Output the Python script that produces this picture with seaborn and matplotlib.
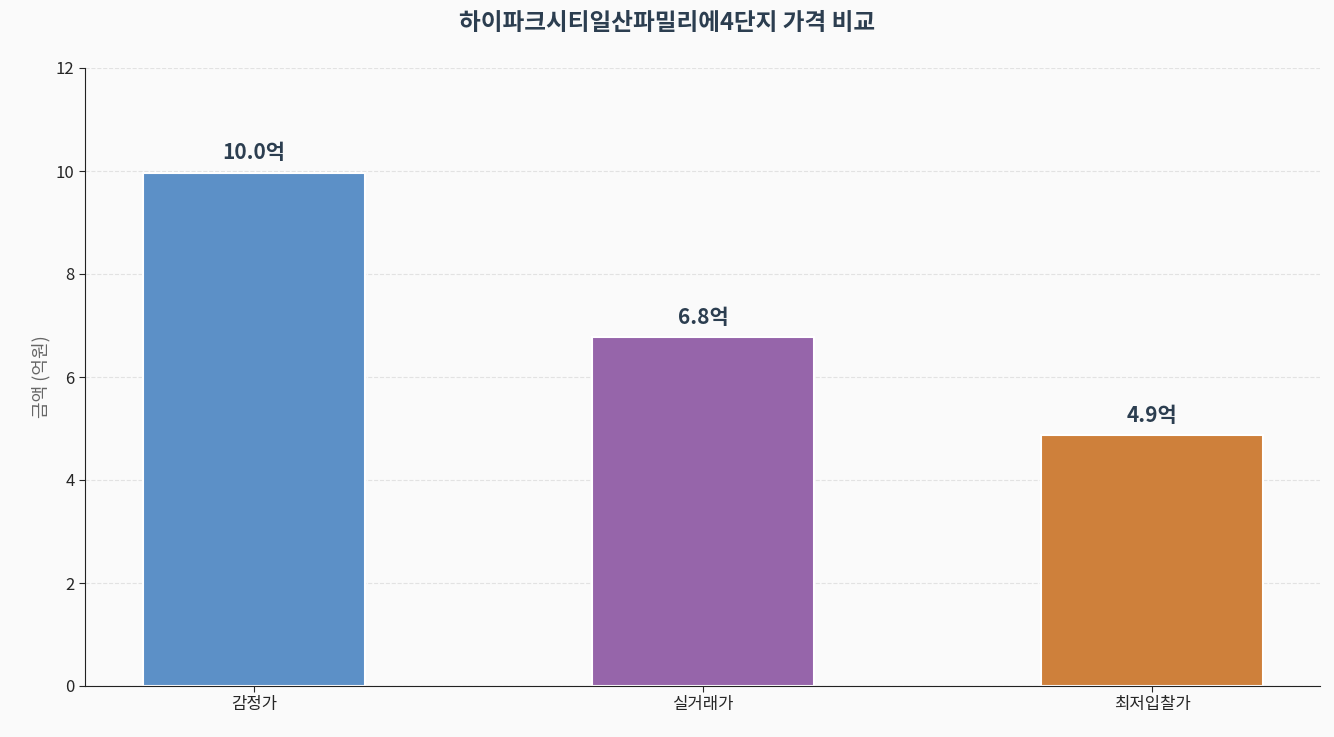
import matplotlib
matplotlib.use("Agg")
import matplotlib.pyplot as plt
import seaborn as sns
import pandas as pd

categories = ["감정가", "실거래가", "최저입찰가"]
values = [9.97, 6.77, 4.87]
colors = ["#4a90d9", "#9b59b6", "#e67e22"]

sns.set_style("white")
plt.rcParams["font.family"] = ["Noto Sans CJK KR", "DejaVu Sans"]

df = pd.DataFrame({"category": categories, "value": values})

fig = plt.figure(figsize=(13.34, 7.37), dpi=100, facecolor="#fafafa")
ax = fig.add_axes([85 / 1334, 1 - 686 / 737, 1235 / 1334, 618 / 737])
ax.set_facecolor("#fafafa")

sns.barplot(data=df, x="category", y="value", hue="category", palette=colors,
            width=0.495, edgecolor="white", linewidth=1.5, legend=False, ax=ax)

for i, v in enumerate(values):
    ax.text(i, v + 0.18, f"{v:.1f}억", ha="center", va="bottom",
            fontsize=15, fontweight="bold", color="#2c3e50")

ax.set_ylim(0, 12)
ax.set_xlim(-0.376, 2.374)
ax.set_yticks(range(0, 13, 2))
ax.grid(axis="y", linestyle="--", alpha=0.5, color="#cccccc")
ax.set_axisbelow(True)
ax.set_xlabel("")
ax.set_ylabel("금액 (억원)", fontsize=13, color="#666666")
ax.tick_params(axis="both", labelsize=12, left=True, bottom=True, length=4)
for s in ["top", "right"]:
    ax.spines[s].set_visible(False)
for s in ["left", "bottom"]:
    ax.spines[s].set_color("#222222")
fig.suptitle("하이파크시티일산파밀리에4단지 가격 비교", fontsize=17,
             fontweight="bold", color="#2c3e50", y=0.985)

fig.savefig("out.png", dpi=100, facecolor=fig.get_facecolor())
